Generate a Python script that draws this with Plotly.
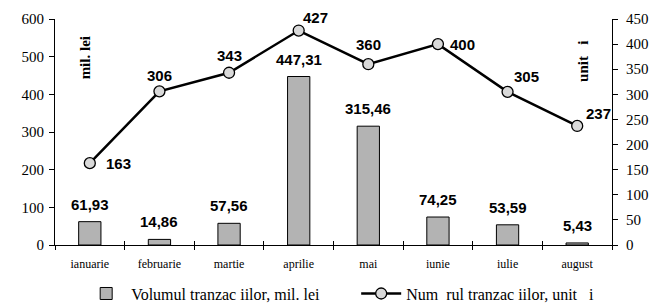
import plotly.graph_objects as go

months = ["ianuarie", "februarie", "martie", "aprilie", "mai", "iunie", "iulie", "august"]
volume = [61.93, 14.86, 57.56, 447.31, 315.46, 74.25, 53.59, 5.43]
count = [163, 306, 343, 427, 360, 400, 305, 237]
# label offsets (px) of the line value labels relative to their markers
count_label_dx = [29, 0, 0, 17, 0, 25, 19, 21]
count_label_dy = [0, 16, 17, 13, 20, 0, 15, 12]

bar_name = "Volumul tranzac iilor, mil. lei"
line_name = "Num\u00a0 rul tranzac iilor, unit\u00a0\u00a0 i"
left_title = "mil. lei"
right_title = "unit\u00a0\u00a0 i"

serif = "Liberation Serif"
sans = "Liberation Sans"

fig = go.Figure()
fig.add_trace(go.Bar(
    x=months, y=volume, name=bar_name, width=0.32,
    marker=dict(color="#b3b3b3", line=dict(color="black", width=1)),
    yaxis="y", hoverinfo="skip",
))
fig.add_trace(go.Scatter(
    x=months, y=count, name=line_name, yaxis="y2",
    mode="lines+markers",
    line=dict(color="black", width=2.5),
    marker=dict(size=11, color="#d9d9d9", line=dict(color="black", width=1.3)),
    cliponaxis=False, hoverinfo="skip",
))

annotations = []
for m, v in zip(months, volume):
    annotations.append(dict(
        x=m, y=v, xref="x", yref="y", yanchor="bottom", yshift=7,
        text=f"{v:.2f}".replace(".", ","), showarrow=False,
        font=dict(family=sans, size=15, color="black", weight="bold"),
    ))
for m, v, dx, dy in zip(months, count, count_label_dx, count_label_dy):
    annotations.append(dict(
        x=m, y=v, xref="x", yref="y2", xanchor="center", yanchor="middle",
        xshift=dx, yshift=dy, text=str(v), showarrow=False,
        font=dict(family=sans, size=15, color="black", weight="bold"),
    ))
annotations.append(dict(
    x=0.036, y=0.93, xref="paper", yref="paper", text=left_title, textangle=-90,
    showarrow=False, font=dict(family=serif, size=15, color="black", weight="bold"),
))
annotations.append(dict(
    x=0.966, y=0.91, xref="paper", yref="paper", text=right_title, textangle=-90,
    showarrow=False, font=dict(family=serif, size=15, color="black", weight="bold"),
))

# the page body adds an 8px offset, so the figure is 8px smaller
fig.update_layout(
    width=655, height=295,
    margin=dict(l=47, r=51, t=11, b=58, autoexpand=False),
    paper_bgcolor="white", plot_bgcolor="white",
    showlegend=True,
    legend=dict(orientation="h", x=0.047, xanchor="left", y=-0.215, yanchor="middle",
                font=dict(family=serif, size=16, color="black"),
                itemwidth=40, entrywidth=220, traceorder="normal",
                bgcolor="rgba(0,0,0,0)"),
    xaxis=dict(type="category", categoryorder="array", categoryarray=months,
               range=[-0.5, 7.5],
               showline=True, linecolor="black", linewidth=1,
               ticks="outside", tickson="boundaries", ticklen=4, tickcolor="black",
               tickfont=dict(family=serif, size=12, color="black"),
               ticklabelstandoff=8, showgrid=False, zeroline=False),
    xaxis3=dict(overlaying="x", anchor="y", range=[-0.5, 7.5],
                tickmode="array", tickvals=[i - 0.5 for i in range(len(months) + 1)],
                ticks="inside", ticklen=4, tickcolor="black",
                showticklabels=False, showgrid=False, zeroline=False, showline=False),
    yaxis=dict(range=[0, 600], dtick=100, showline=True, linecolor="black", linewidth=1,
               ticks="outside", ticklen=5, tickcolor="black",
               tickfont=dict(family=serif, size=15, color="black"),
               showgrid=False, zeroline=False, ticklabelstandoff=2),
    yaxis2=dict(range=[0, 450], dtick=50, overlaying="y", side="right",
                showline=True, linecolor="black", linewidth=1,
                ticks="outside", ticklen=5, tickcolor="black",
                tickfont=dict(family=serif, size=15, color="black"),
                showgrid=False, zeroline=False, ticklabelstandoff=5),
    annotations=annotations,
)
fig.add_trace(go.Scatter(x=[0], y=[0], xaxis="x3", yaxis="y", mode="markers",
                         marker=dict(opacity=0), showlegend=False, hoverinfo="skip"))

fig.write_html("out.html")
